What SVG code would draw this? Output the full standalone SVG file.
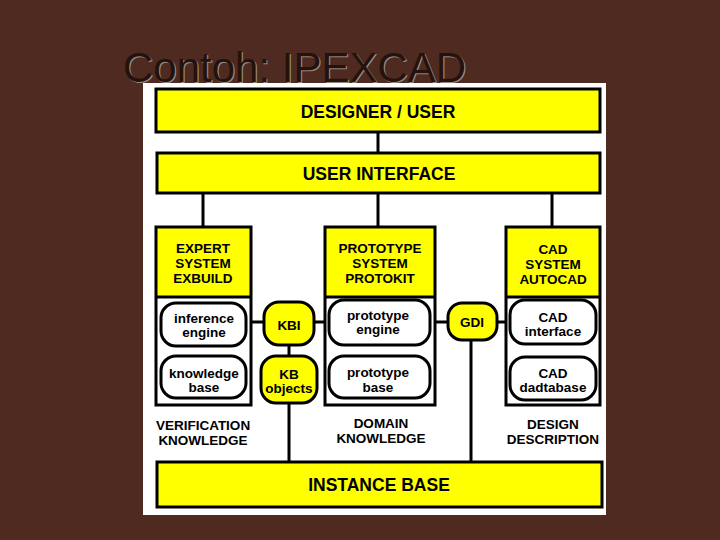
<svg xmlns="http://www.w3.org/2000/svg" width="720" height="540" viewBox="0 0 720 540">
<style>
.hdr{fill:#ffff00;stroke:#000;stroke-width:3}
.box{fill:none;stroke:#000;stroke-width:3}
.wb{fill:#fff;stroke:#000;stroke-width:3}
.yb{fill:#ffff00;stroke:#000;stroke-width:3}
.ln{stroke:#000;stroke-width:3;fill:none}
text{font-family:"Liberation Sans",Arial,sans-serif;font-weight:bold;fill:#000;text-anchor:middle}
.big{font-size:17.5px}
.sm{font-size:13.5px}
.title{font-family:"Liberation Sans",Arial,sans-serif;font-weight:normal;font-size:42px;text-anchor:start}
</style>
<rect width="720" height="540" fill="#4e2a20"/>
<g id="title">
<text class="title" x="124.2" y="83.2" style="fill:#978880">Contoh: IPEXCAD</text>
<text class="title" x="123" y="82" style="fill:#24120c">Contoh: IPEXCAD</text>
</g>
<rect id="panel" x="143" y="83" width="463" height="432" fill="#fff"/>
<g id="connectors">
<line class="ln" x1="378" y1="132" x2="378" y2="153"/>
<line class="ln" x1="203" y1="193" x2="203" y2="227"/>
<line class="ln" x1="378" y1="193" x2="378" y2="227"/>
<line class="ln" x1="552" y1="193" x2="552" y2="227"/>
<line class="ln" x1="207" y1="346" x2="207" y2="356"/>
<line class="ln" x1="251" y1="322" x2="264" y2="322"/>
<line class="ln" x1="314" y1="322" x2="325" y2="322"/>
<line class="ln" x1="289" y1="345" x2="289" y2="356"/>
<line class="ln" x1="289" y1="403" x2="289" y2="462"/>
<line class="ln" x1="378" y1="345" x2="378" y2="356"/>
<line class="ln" x1="435" y1="322" x2="448" y2="322"/>
<line class="ln" x1="497" y1="322" x2="506" y2="322"/>
<line class="ln" x1="471" y1="340" x2="471" y2="462"/>
<line class="ln" x1="553" y1="344" x2="553" y2="357"/>
</g>
<g id="designer">
<rect class="yb" x="156" y="89" width="444" height="43"/>
<text class="big" x="378" y="118">DESIGNER / USER</text>
</g>
<g id="user-interface">
<rect class="yb" x="157" y="153" width="443" height="40"/>
<text class="big" x="379" y="180">USER INTERFACE</text>
</g>
<g id="expert-system">
<rect fill="#fff" x="156" y="227" width="95" height="178"/>
<rect fill="#ffff00" x="156" y="227" width="95" height="70"/>
<line class="ln" x1="156" y1="297" x2="251" y2="297"/>
<rect class="box" x="156" y="227" width="95" height="178"/>
<text class="sm" x="203" y="253">EXPERT</text>
<text class="sm" x="203" y="268">SYSTEM</text>
<text class="sm" x="203" y="283">EXBUILD</text>
</g>
<g id="inference-engine">
<rect class="wb" x="161" y="303" width="85" height="43" rx="15"/>
<text class="sm" x="204" y="323">inference</text>
<text class="sm" x="204" y="337">engine</text>
</g>
<g id="knowledge-base">
<rect class="wb" x="161" y="356" width="85" height="42" rx="15"/>
<text class="sm" x="204" y="378">knowledge</text>
<text class="sm" x="204" y="392">base</text>
</g>
<g id="kbi">
<rect class="yb" x="264" y="302" width="50" height="43" rx="15"/>
<text class="sm" x="289" y="330">KBI</text>
</g>
<g id="kb-objects">
<rect class="yb" x="261" y="356" width="56" height="47" rx="15"/>
<text class="sm" x="289" y="379">KB</text>
<text class="sm" x="289" y="393">objects</text>
</g>
<g id="prototype-system">
<rect fill="#fff" x="325" y="227" width="110" height="178"/>
<rect fill="#ffff00" x="325" y="227" width="110" height="70"/>
<line class="ln" x1="325" y1="297" x2="435" y2="297"/>
<rect class="box" x="325" y="227" width="110" height="178"/>
<text class="sm" x="380" y="253">PROTOTYPE</text>
<text class="sm" x="380" y="268">SYSTEM</text>
<text class="sm" x="380" y="283">PROTOKIT</text>
</g>
<g id="prototype-engine">
<rect class="wb" x="329" y="300" width="101" height="45" rx="15"/>
<text class="sm" x="378" y="320">prototype</text>
<text class="sm" x="378" y="334">engine</text>
</g>
<g id="prototype-base">
<rect class="wb" x="329" y="356" width="101" height="42" rx="15"/>
<text class="sm" x="378" y="377">prototype</text>
<text class="sm" x="378" y="392">base</text>
</g>
<g id="gdi">
<rect class="yb" x="448" y="303" width="49" height="37" rx="14"/>
<text class="sm" x="472" y="327">GDI</text>
</g>
<g id="cad-system">
<rect fill="#fff" x="506" y="227" width="94" height="178"/>
<rect fill="#ffff00" x="506" y="227" width="94" height="70"/>
<line class="ln" x1="506" y1="297" x2="600" y2="297"/>
<rect class="box" x="506" y="227" width="94" height="178"/>
<text class="sm" x="553" y="254">CAD</text>
<text class="sm" x="553" y="269">SYSTEM</text>
<text class="sm" x="553" y="284">AUTOCAD</text>
</g>
<g id="cad-interface">
<rect class="wb" x="510" y="300" width="86" height="44" rx="15"/>
<text class="sm" x="553" y="322">CAD</text>
<text class="sm" x="553" y="336">interface</text>
</g>
<g id="cad-database">
<rect class="wb" x="510" y="357" width="86" height="43" rx="15"/>
<text class="sm" x="553" y="378">CAD</text>
<text class="sm" x="553" y="392">dadtabase</text>
</g>
<g id="verification-knowledge">
<text class="sm" x="203" y="430">VERIFICATION</text>
<text class="sm" x="203" y="445">KNOWLEDGE</text>
</g>
<g id="domain-knowledge">
<text class="sm" x="381" y="428">DOMAIN</text>
<text class="sm" x="381" y="443">KNOWLEDGE</text>
</g>
<g id="design-description">
<text class="sm" x="553" y="429">DESIGN</text>
<text class="sm" x="553" y="444">DESCRIPTION</text>
</g>
<g id="instance-base">
<rect class="yb" x="157" y="462" width="445" height="45"/>
<text class="big" x="379" y="491">INSTANCE BASE</text>
</g>
</svg>
